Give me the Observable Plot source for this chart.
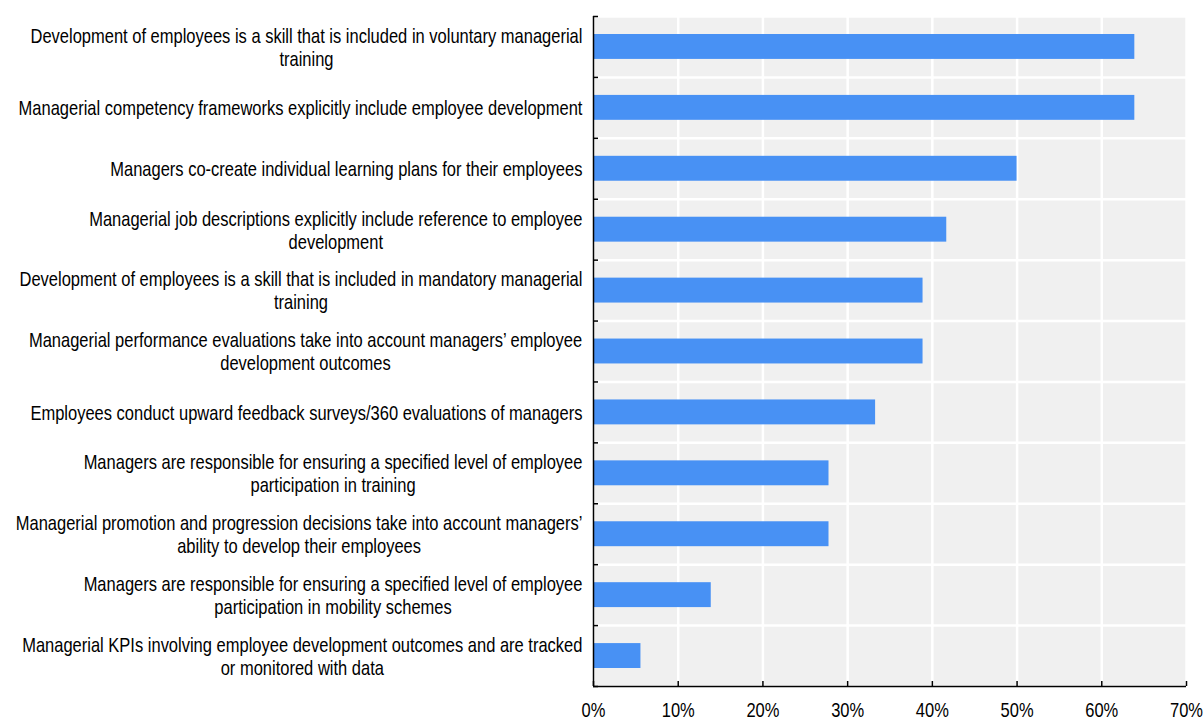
<!DOCTYPE html>
<html><head><meta charset="utf-8">
<script src="https://cdn.jsdelivr.net/npm/d3@7"></script>
<script src="https://cdn.jsdelivr.net/npm/@observablehq/plot@0.6"></script>
<style>body{margin:0;background:#fff;} #chart{width:1204px;height:720px;}</style>
</head><body><div id="chart"></div>
<script>
const categories = [
  "Development of employees is a skill that is included in voluntary managerial\ntraining",
  "Managerial competency frameworks explicitly include employee development",
  "Managers co-create individual learning plans for their employees",
  "Managerial job descriptions explicitly include reference to employee\ndevelopment",
  "Development of employees is a skill that is included in mandatory managerial\ntraining",
  "Managerial performance evaluations take into account managers\u2019 employee\ndevelopment outcomes",
  "Employees conduct upward feedback surveys/360 evaluations of managers",
  "Managers are responsible for ensuring a specified level of employee\nparticipation in training",
  "Managerial promotion and progression decisions take into account managers\u2019\nability to develop their employees",
  "Managers are responsible for ensuring a specified level of employee\nparticipation in mobility schemes",
  "Managerial KPIs involving employee development outcomes and are tracked\nor monitored with data"
];
const values = [63.9, 63.9, 50.0, 41.7, 38.9, 38.9, 33.3, 27.8, 27.8, 13.9, 5.6];
const xTicks = [0, 10, 20, 30, 40, 50, 60, 70];
const xTickLabels = ["0%", "10%", "20%", "30%", "40%", "50%", "60%", "70%"];

const W = 1204, H = 720, mL = 593, mR = 18, mT = 16, mB = 34;
const FS = 20;
const ctx = document.createElement("canvas").getContext("2d");
function avail(name) {
  const s = "Managerial competency frameworks explicitly";
  ctx.font = `${FS}px monospace`; const a = ctx.measureText(s).width;
  ctx.font = `${FS}px '${name}', monospace`; const b = ctx.measureText(s).width;
  return Math.abs(a - b) > 0.5;
}
let FONT, SX;
if (avail("Liberation Sans Narrow")) { FONT = "'Liberation Sans Narrow'"; SX = 1; }
else { FONT = "'Liberation Sans', Arial, sans-serif"; SX = 0.825; }
ctx.font = `${FS}px ${FONT}`;
function maxLineWidth(t) { return d3.max(t.split("\n"), l => ctx.measureText(l).width) * SX; }
const labelRight = 582;
const xs = d3.scaleLinear([0, 70], [mL, W - mR]);
const rows = categories.map((c, i) => ({label: c, value: values[i], i}));

const plot = Plot.plot({
  width: W, height: H, marginLeft: mL, marginRight: mR, marginTop: mT, marginBottom: mB,
  x: {domain: [0, 70], axis: null},
  y: {domain: [0, 11], reverse: true, axis: null},
  style: {fontFamily: FONT, fontSize: FS + "px", background: "white", color: "black"},
  marks: [
    Plot.frame({fill: "#f0f0f0", stroke: "none"}),
    Plot.ruleX(xTicks, {stroke: "white", strokeWidth: 2.5}),
    Plot.ruleY(d3.range(12), {stroke: "white", strokeWidth: 2.5}),
    Plot.rect(rows, {x1: 0, x2: "value", y1: "i", y2: d => d.i + 1, insetTop: 18, insetBottom: 18, fill: "#4891f4"}),
    Plot.ruleX([0], {stroke: "black", strokeWidth: 1.5}),
    Plot.ruleY([11], {stroke: "black", strokeWidth: 1.5}),
    Plot.ruleY(d3.range(12), {x1: 0, x2: 0, insetRight: -5, stroke: "black", strokeWidth: 1.5}),
    Plot.ruleX(xTicks, {y1: 11, y2: 11, insetBottom: 5, stroke: "black", strokeWidth: 1.5}),
    Plot.text(rows, {x: d => xs.invert(labelRight - maxLineWidth(d.label) / 2), y: d => d.i + 0.5, text: "label",
      textAnchor: "middle", lineAnchor: "middle", lineHeight: 1.15, fill: "black"}),
    Plot.text(xTicks, {x: d => d, y: 11, dy: 24, text: xTickLabels, textAnchor: "middle", lineAnchor: "middle", fill: "black"})
  ]
});
document.getElementById("chart").appendChild(plot);
if (SX !== 1) {
  plot.querySelectorAll('g[aria-label="text"] text').forEach(t => {
    const tr = t.getAttribute("transform");
    if (tr) t.setAttribute("transform", tr + ` scale(${SX},1)`);
    else {
      const x = +t.getAttribute("x") || 0, y = +t.getAttribute("y") || 0;
      t.removeAttribute("x"); t.removeAttribute("y");
      t.setAttribute("transform", `translate(${x},${y}) scale(${SX},1)`);
    }
  });
}
</script></body></html>
